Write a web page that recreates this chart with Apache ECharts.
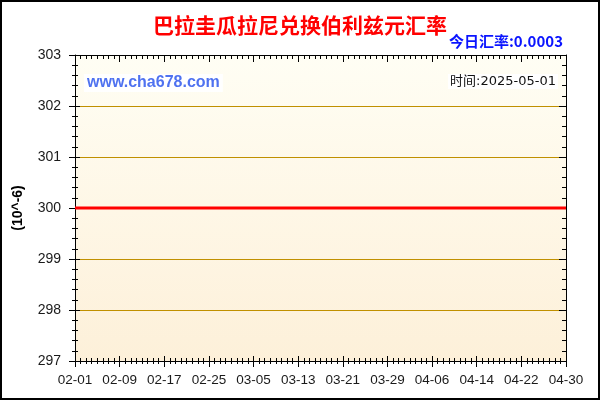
<!DOCTYPE html>
<html>
<head>
<meta charset="utf-8">
<script src="https://cdn.jsdelivr.net/npm/echarts@6/dist/echarts.min.js"></script>
<style>
html,body{margin:0;padding:0;background:#fff;}
#container{width:600px;height:400px;}
</style>
</head>
<body>
<div id="container"></div>
<script>
var titleText = '巴拉圭瓜拉尼兑换伯利兹元汇率';
var todayText = '今日汇率:0.0003';
var siteText = 'www.cha678.com';
var timeText = '时间:2025-05-01';
var yName = '(10^-6)';

// 02-01 ~ 04-30 每天一个点
var categories = [
	'02-01','02-02','02-03','02-04','02-05','02-06','02-07','02-08','02-09','02-10',
	'02-11','02-12','02-13','02-14','02-15','02-16','02-17','02-18','02-19','02-20',
	'02-21','02-22','02-23','02-24','02-25','02-26','02-27','02-28',
	'03-01','03-02','03-03','03-04','03-05','03-06','03-07','03-08','03-09','03-10',
	'03-11','03-12','03-13','03-14','03-15','03-16','03-17','03-18','03-19','03-20',
	'03-21','03-22','03-23','03-24','03-25','03-26','03-27','03-28','03-29','03-30','03-31',
	'04-01','04-02','04-03','04-04','04-05','04-06','04-07','04-08','04-09','04-10',
	'04-11','04-12','04-13','04-14','04-15','04-16','04-17','04-18','04-19','04-20',
	'04-21','04-22','04-23','04-24','04-25','04-26','04-27','04-28','04-29','04-30'
];
// 汇率 (10^-6)
var rateValues = [
	300,300,300,300,300,300,300,300,300,300,
	300,300,300,300,300,300,300,300,300,300,
	300,300,300,300,300,300,300,300,
	300,300,300,300,300,300,300,300,300,300,
	300,300,300,300,300,300,300,300,300,300,
	300,300,300,300,300,300,300,300,300,300,300,
	300,300,300,300,300,300,300,300,300,300,
	300,300,300,300,300,300,300,300,300,300,
	300,300,300,300,300,300,300,300,300,300
];
var yMin = 297, yMax = 303, yStep = 1;

var fontEn = 'Liberation Sans, Arial, sans-serif';
var fontCn = 'Noto Sans CJK SC, sans-serif';

function xAxisOf(pos, tickInterval, tickLen, inside, showLine, showLabel){
	return {
		type:'category', position:pos, data:categories, boundaryGap:false,
		axisLine:{show:showLine, onZero:false, lineStyle:{color:'#000', width:1}},
		axisTick:{show:true, interval:tickInterval, length:tickLen, inside:inside, lineStyle:{color:'#000'}},
		axisLabel:{show:showLabel, interval:7, margin:12, fontSize:13.5, color:'#1a1a1a', fontFamily:fontEn},
		splitLine:{show:false}
	};
}
function yAxisOf(pos, tickLen, minorLen, inside, showLine, showLabel, showSplit){
	return {
		type:'value', position:pos, min:yMin, max:yMax, interval:yStep,
		axisLine:{show:showLine, onZero:false, lineStyle:{color:'#000', width:1}},
		axisTick:{show:true, length:tickLen, inside:inside, lineStyle:{color:'#000'}},
		minorTick:{show:true, splitNumber:5, length:minorLen, lineStyle:{color:'#000'}},
		axisLabel:{show:showLabel, margin:14, fontSize:14, color:'#1a1a1a', fontFamily:fontEn},
		splitLine:{show:showSplit, lineStyle:{color:'#c09000', width:1}}
	};
}

var yLeft = yAxisOf('left', 6, 3, false, true, true, true);
yLeft.name = yName;
yLeft.nameLocation = 'middle';
yLeft.nameGap = 50;
yLeft.nameTextStyle = {fontSize:14, fontWeight:'bold', color:'#000', fontFamily:fontEn};

var option = {
	backgroundColor:'#fff',
	animation:false,
	title:{
		text:titleText, left:'center', top:10,
		textStyle:{color:'#ff0000', fontSize:21, fontWeight:'bold', fontFamily:fontCn}
	},
	grid:{
		left:75, right:34, top:55, bottom:39, show:true, borderWidth:0,
		backgroundColor:new echarts.graphic.LinearGradient(0,0,0,1,[
			{offset:0, color:'#fffef4'},
			{offset:1, color:'#fdf0d9'}
		])
	},
	xAxis:[
		xAxisOf('bottom', 7, 6, false, true, true),
		xAxisOf('bottom', 7, 5, true, false, false),
		xAxisOf('bottom', 0, 3, false, false, false),
		xAxisOf('bottom', 0, 3, true, false, false),
		xAxisOf('top', 0, 4, true, true, false),
		xAxisOf('top', 7, 7, true, false, false)
	],
	yAxis:[
		yLeft,
		yAxisOf('left', 5, 3, true, false, false, false),
		yAxisOf('right', 7, 4, true, true, false, false)
	],
	graphic:[
		{type:'rect', shape:{x:1, y:1, width:598, height:398}, style:{fill:'none', stroke:'#000', lineWidth:2}, z:100},
		{type:'text', right:37, top:34, style:{text:todayText, fill:'#0a14ff', font:'bold 15px ' + fontCn}, z:100},
		{type:'text', left:84, top:74, style:{text:siteText, fill:'#4f72f0', font:'bold 16px ' + fontEn,
			backgroundColor:'#fff', padding:[1,3,1,3]}, z:100},
		{type:'text', right:42, top:74, style:{text:timeText, fill:'#111', font:'13px DejaVu Sans, ' + fontCn,
			backgroundColor:'#fff', padding:[1,2,1,2]}, z:100}
	],
	series:[{
		name:'汇率', type:'line', xAxisIndex:0, yAxisIndex:0,
		data:rateValues, showSymbol:false, symbol:'none',
		lineStyle:{color:'#ff0000', width:3}, z:10
	}]
};

var chart = echarts.init(document.getElementById('container'));
chart.setOption(option);
</script>
</body>
</html>
